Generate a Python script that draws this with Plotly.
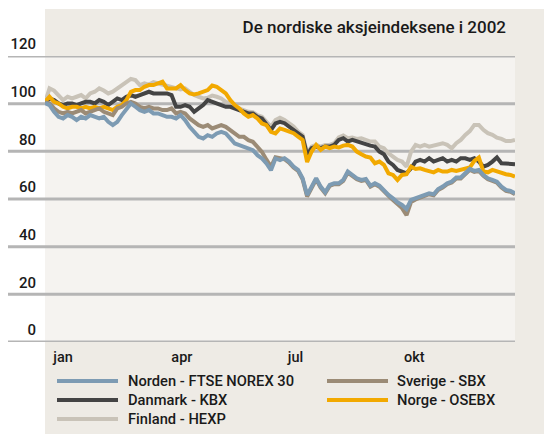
import pandas as pd
import plotly.graph_objects as go

# half-weekly observations through 2002
dates = pd.date_range("2002-01-01", periods=105, freq="84h")

norden = [100.3, 99.4, 96.6, 94.5, 93.8, 95.2, 94.5, 93.1, 94.5, 93.8, 95.2, 94.5, 93.8, 94.5, 92.4, 91.0, 92.4, 95.2, 98.0, 100.1, 98.7, 97.3, 96.6, 97.3, 95.9, 95.9, 95.2,
          94.5, 94.5, 93.8, 95.2, 93.1, 90.3, 88.2, 86.1, 85.4, 86.8, 86.1, 87.5, 88.2, 87.5, 85.4, 83.3, 82.6, 81.9, 81.2, 80.5, 78.4, 77.0, 74.9, 72.1, 77.0, 76.3,
          77.1, 75.7, 73.6, 72.2, 68.7, 61.7, 65.2, 68.7, 65.2, 62.8, 65.9, 66.6, 66.6, 68.0, 71.5, 70.1, 68.7, 68.0, 68.4, 65.6, 66.6, 65.6, 63.4, 61.7, 60.3, 58.6,
          57.5, 55.8, 59.6, 60.3, 61.0, 61.7, 62.4, 62.0, 64.2, 65.2, 66.6, 67.3, 69.0, 69.0, 70.8, 72.6, 71.8, 72.2, 70.1, 68.7, 68.0, 67.3, 65.2, 63.8, 63.4, 62.4]
sverige = [100.5, 100.1, 98.0, 96.6, 95.9, 96.6, 95.9, 96.6, 97.3, 95.9, 96.6, 97.3, 98.0, 96.6, 95.9, 95.2, 98.0, 98.7, 100.1, 100.8, 100.1, 98.7, 98.0, 98.7, 98.0, 98.0, 97.3,
           97.3, 98.0, 95.9, 96.6, 95.9, 93.8, 92.4, 91.0, 90.3, 91.0, 89.6, 90.3, 91.0, 90.3, 88.9, 87.5, 86.1, 86.1, 84.7, 84.0, 81.9, 79.8, 76.5, 73.5, 77.5, 77.0,
           76.7, 75.3, 73.2, 71.8, 68.3, 61.0, 64.8, 68.3, 64.8, 62.4, 65.5, 66.2, 66.2, 67.6, 71.1, 69.7, 68.3, 67.6, 68.0, 65.2, 66.2, 65.2, 63.0, 61.3, 59.6, 57.6,
           56.2, 53.2, 58.8, 59.8, 60.5, 61.2, 62.0, 61.6, 63.8, 64.8, 66.2, 66.9, 68.6, 68.6, 70.4, 72.2, 71.4, 71.8, 69.7, 68.3, 67.6, 66.9, 64.8, 63.4, 63.0, 62.0]
danmark = [100.6, 102.2, 101.5, 100.1, 99.4, 100.1, 100.1, 99.4, 100.1, 100.8, 100.8, 100.1, 101.5, 100.8, 99.4, 100.8, 102.2, 101.5, 102.9, 103.6, 102.9, 103.6, 104.3, 105.0, 104.3, 104.3, 104.3,
           104.3, 103.6, 98.7, 98.7, 99.4, 98.7, 96.6, 98.0, 99.4, 101.5, 100.8, 100.1, 99.4, 98.7, 98.7, 98.0, 97.3, 96.6, 95.9, 95.9, 94.5, 93.8, 91.0, 88.9, 91.7, 92.4,
           91.8, 90.4, 89.0, 87.6, 86.2, 78.5, 81.3, 82.0, 81.3, 82.0, 82.0, 82.7, 84.8, 85.5, 84.1, 84.8, 84.1, 83.8, 82.7, 82.4, 82.0, 79.9, 78.8, 75.7, 74.3, 72.2,
           71.5, 70.8, 72.9, 75.7, 76.4, 75.7, 77.1, 75.7, 76.4, 77.1, 75.7, 76.4, 75.7, 77.1, 77.1, 76.4, 77.1, 75.7, 73.6, 74.3, 75.7, 77.4, 75.0, 75.0, 75.0, 74.6]
norge = [100.8, 102.9, 100.8, 100.1, 98.7, 98.0, 98.7, 98.7, 98.0, 98.7, 98.0, 98.7, 98.0, 98.7, 98.0, 97.3, 98.7, 99.4, 101.5, 105.0, 105.7, 105.7, 107.1, 107.8, 107.8, 108.5, 109.2,
         106.4, 106.4, 106.4, 107.8, 105.7, 104.3, 103.9, 104.3, 105.0, 105.7, 107.6, 107.1, 105.7, 104.3, 101.5, 99.4, 98.0, 95.9, 94.5, 95.2, 93.8, 91.7, 91.0, 88.2, 87.5, 89.6,
         89.0, 88.3, 87.6, 86.2, 84.8, 75.5, 79.9, 82.7, 80.6, 82.0, 81.3, 82.0, 81.6, 82.4, 82.7, 82.0, 79.9, 78.8, 77.8, 77.4, 75.0, 75.7, 74.3, 70.8, 70.1, 68.0,
         70.1, 70.4, 73.6, 72.6, 72.9, 72.2, 71.5, 71.2, 72.2, 71.5, 71.5, 72.2, 71.8, 72.2, 72.9, 73.2, 76.0, 77.4, 71.5, 71.2, 72.2, 71.5, 70.8, 70.4, 70.1, 69.4]
finland = [100.5, 106.4, 105.5, 103.6, 101.5, 102.9, 102.2, 102.9, 103.6, 102.2, 104.3, 105.0, 106.4, 105.5, 104.3, 105.0, 106.4, 108.0, 109.5, 110.4, 109.9, 107.8, 108.5, 108.0, 109.0, 108.5, 107.8,
           107.5, 107.0, 106.5, 106.0, 106.4, 105.0, 103.6, 102.9, 102.2, 102.5, 103.4, 102.9, 102.2, 100.8, 100.1, 98.7, 98.0, 97.3, 96.6, 96.4, 95.2, 94.5, 92.4, 90.3, 93.1, 94.1,
           93.2, 91.8, 90.4, 88.3, 86.9, 79.2, 82.0, 82.7, 82.0, 82.7, 82.7, 83.4, 85.8, 86.6, 85.5, 85.8, 85.2, 85.5, 84.8, 84.1, 84.1, 82.0, 81.3, 79.2, 77.8, 76.4,
           75.7, 73.6, 79.9, 82.7, 82.0, 82.7, 82.0, 82.4, 82.7, 83.4, 82.7, 81.3, 83.4, 84.8, 86.9, 88.5, 91.1, 91.1, 89.0, 87.6, 86.9, 85.7, 85.2, 84.3, 84.3, 84.8]

y_ticks = [0, 20, 40, 60, 80, 100, 120]
x_tickvals = ["2002-01-15", "2002-04-17", "2002-07-14", "2002-10-14"]
x_ticktext = ["jan", "apr", "jul", "okt"]

FONT = "Roboto"
TXT = "#1a1a1a"

# name, values, color, legend column, legend row (drawing order = list order)
series = [
    ("Finland - HEXP", finland, "#c9c3b8", 0, 2),
    ("Danmark - KBX", danmark, "#444444", 0, 1),
    ("Norge - OSEBX", norge, "#f2a900", 1, 1),
    ("Sverige - SBX", sverige, "#9b8b76", 1, 0),
    ("Norden - FTSE NOREX 30", norden, "#7d9bb3", 0, 0),
]

fig = go.Figure()
for name, vals, col, _c, _r in series:
    fig.add_trace(go.Scatter(x=dates, y=vals, mode="lines", name=name, showlegend=False,
                             line=dict(color=col, width=4)))

W, H = 544, 434
L, R, T, B = 45, 29, 56, 92
pw, ph = W - L - R, H - T - B


def px_x(p):
    return (p - L) / pw


def px_y(p):
    return (H - B - p) / ph


shapes = [
    dict(type="rect", xref="paper", yref="paper", x0=0, x1=px_x(W + 5), y0=px_y(H + 5), y1=px_y(9),
         fillcolor="#eeebe5", line=dict(width=0), layer="below"),
    dict(type="rect", xref="paper", yref="paper", x0=0, x1=1, y0=0, y1=1,
         fillcolor="#f5f3f0", line=dict(width=0), layer="below"),
]
for v in y_ticks:
    shapes.append(dict(type="line", xref="paper", yref="y", x0=px_x(8), x1=1, y0=v, y1=v,
                       line=dict(color="#b5b5b5", width=3), layer="below"))

# legend (two columns, drawn as samples + labels)
col_line_x = [(57, 118), (327, 388)]
col_text_x = [126, 395]
row_y = [381, 400, 419]
annotations = []
for name, vals, col, c, r in series:
    shapes.append(dict(type="line", xref="paper", yref="paper",
                       x0=px_x(col_line_x[c][0]), x1=px_x(col_line_x[c][1]),
                       y0=px_y(row_y[r]), y1=px_y(row_y[r]),
                       line=dict(color=col, width=4)))
    annotations.append(dict(text=name, xref="paper", yref="paper", x=px_x(col_text_x[c]), y=px_y(row_y[r]),
                            xanchor="left", yanchor="middle", showarrow=False,
                            font=dict(family=FONT, size=14.7, color=TXT, weight=500)))

fig.update_layout(
    width=W, height=H,
    margin=dict(l=L, r=R, t=T, b=B, autoexpand=False),
    paper_bgcolor="#ffffff",
    plot_bgcolor="rgba(0,0,0,0)",
    font=dict(family=FONT, size=14, color=TXT),
    shapes=shapes,
    annotations=annotations,
    showlegend=False,
    title=dict(text="De nordiske aksjeindeksene i 2002", x=506 / W, xanchor="right", xref="container",
               y=1 - 27 / H, yanchor="middle", yref="container",
               font=dict(family=FONT, size=17, color=TXT, weight=500)),
    xaxis=dict(range=["2002-01-01", "2002-12-31"], tickvals=x_tickvals, ticktext=x_ticktext,
               showgrid=False, zeroline=False, showline=False, ticks="",
               tickfont=dict(family=FONT, size=14.5, color=TXT, weight=500), ticklabelstandoff=4),
    yaxis=dict(range=[0, 120], tickvals=y_ticks, showgrid=False, zeroline=False, showline=False, ticks="",
               tickfont=dict(family=FONT, size=15, color=TXT, weight=500),
               ticklabelshift=-12, ticklabelstandoff=8),
)

fig.write_html("out.html", config={"displayModeBar": False},
               post_script="document.body.style.margin='0';document.body.style.overflow='hidden';")
